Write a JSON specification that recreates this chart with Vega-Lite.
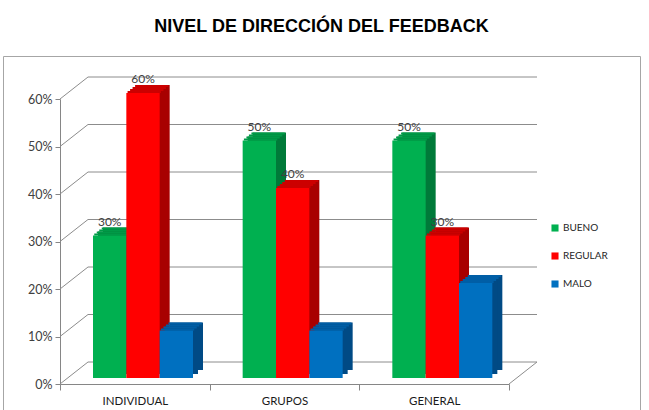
{
  "$schema": "https://vega.github.io/schema/vega-lite/v6.json",
  "width": 637,
  "height": 356,
  "autosize": {"type": "none"},
  "padding": {"left": 3, "top": 56, "right": 9, "bottom": 0},
  "background": "white",
  "title": {"text": "NIVEL DE DIRECCIÓN DEL FEEDBACK", "font": "Liberation Sans", "fontSize": 18, "fontWeight": "bold", "color": "#000000", "anchor": "middle", "frame": "group", "offset": 20},
  "config": {
    "view": {"stroke": "#a6a6a6", "strokeWidth": 1},
    "axisY": {"domainColor": "#868686", "tickColor": "#868686", "tickSize": 5, "labelFont": "Lato", "labelFontSize": 12.5, "labelColor": "#404040", "labelPadding": 3, "grid": false, "title": null},
    "axisX": {"offset": -28, "domainColor": "#868686", "tickColor": "#868686", "tickSize": 6, "tickBand": "extent", "labelFont": "Lato", "labelFontSize": 11.5, "labelColor": "#1a1a1a", "labelPadding": 5, "grid": false, "title": null, "labelAngle": 0}
  },
  "datasets": {
    "main": [
      {"cat": "INDIVIDUAL", "serie": "BUENO", "value": 0.3},
      {"cat": "INDIVIDUAL", "serie": "REGULAR", "value": 0.6},
      {"cat": "INDIVIDUAL", "serie": "MALO", "value": 0.1},
      {"cat": "GRUPOS", "serie": "BUENO", "value": 0.5},
      {"cat": "GRUPOS", "serie": "REGULAR", "value": 0.4},
      {"cat": "GRUPOS", "serie": "MALO", "value": 0.1},
      {"cat": "GENERAL", "serie": "BUENO", "value": 0.5},
      {"cat": "GENERAL", "serie": "REGULAR", "value": 0.3},
      {"cat": "GENERAL", "serie": "MALO", "value": 0.2}
    ],
    "grid": [{"v": 0}, {"v": 0.1}, {"v": 0.2}, {"v": 0.3}, {"v": 0.4}, {"v": 0.5}, {"v": 0.6}]
  },
  "layer": [
    {
      "data": {"name": "grid"},
      "mark": {"type": "rule", "color": "#8c8c8c", "strokeWidth": 1, "xOffset": 28, "x2Offset": 28, "yOffset": -22, "y2Offset": -22},
      "encoding": {
        "x": {"datum": 0, "type": "quantitative", "scale": {"domain": [0, 1], "range": [57, 506]}, "axis": null},
        "x2": {"datum": 1},
        "y": {"field": "v", "type": "quantitative", "scale": {"domain": [0, 0.6], "range": [328, 43]}, "axis": {"orient": "left", "offset": -57, "values": [0, 0.1, 0.2, 0.3, 0.4, 0.5, 0.6], "format": ".0%"}}
      }
    },
    {
      "data": {"name": "grid"},
      "mark": {"type": "rule", "color": "#8c8c8c", "strokeWidth": 1, "x2Offset": 28, "y2Offset": -22},
      "encoding": {
        "x": {"datum": 0, "type": "quantitative", "scale": {"domain": [0, 1], "range": [57, 506]}, "axis": null},
        "x2": {"datum": 0},
        "y": {"field": "v", "type": "quantitative", "scale": {"domain": [0, 0.6], "range": [328, 43]}, "axis": {"orient": "left", "offset": -57, "values": [0, 0.1, 0.2, 0.3, 0.4, 0.5, 0.6], "format": ".0%"}},
        "y2": {"field": "v"}
      }
    },
    {
      "data": {"values": [{"v": 0}]},
      "mark": {"type": "rule", "color": "#8c8c8c", "strokeWidth": 1, "x2Offset": 28, "y2Offset": -22},
      "encoding": {
        "x": {"datum": 1, "type": "quantitative", "scale": {"domain": [0, 1], "range": [57, 506]}, "axis": null},
        "x2": {"datum": 1},
        "y": {"field": "v", "type": "quantitative", "scale": {"domain": [0, 0.6], "range": [328, 43]}, "axis": {"orient": "left", "offset": -57, "values": [0, 0.1, 0.2, 0.3, 0.4, 0.5, 0.6], "format": ".0%"}},
        "y2": {"field": "v"}
      }
    },
    {
      "data": {"name": "main"},
      "mark": {"type": "bar", "yOffset": -14, "y2Offset": -13},
      "encoding": {
        "x": {"field": "cat", "type": "nominal", "sort": null, "scale": {"domain": ["INDIVIDUAL", "GRUPOS", "GENERAL"], "range": [57, 506], "paddingInner": 0, "paddingOuter": 0}, "axis": null},
        "xOffset": {"field": "serie", "type": "nominal", "sort": null, "scale": {"domain": ["BUENO", "REGULAR", "MALO"], "range": [43, 143], "paddingInner": 0, "paddingOuter": 0}},
        "y": {"field": "value", "type": "quantitative", "scale": {"domain": [0, 0.6], "range": [328, 43]}, "axis": {"orient": "left", "offset": -57, "values": [0, 0.1, 0.2, 0.3, 0.4, 0.5, 0.6], "format": ".0%"}},
        "color": {"field": "serie", "type": "nominal", "scale": {"domain": ["BUENO", "REGULAR", "MALO"], "range": ["#007A39", "#A80000", "#004A85"]}, "legend": null}
      }
    },
    {
      "data": {"name": "main"},
      "mark": {"type": "bar", "yOffset": -10, "y2Offset": -9},
      "encoding": {
        "x": {"field": "cat", "type": "nominal", "sort": null, "scale": {"domain": ["INDIVIDUAL", "GRUPOS", "GENERAL"], "range": [57, 506], "paddingInner": 0, "paddingOuter": 0}, "axis": null},
        "xOffset": {"field": "serie", "type": "nominal", "sort": null, "scale": {"domain": ["BUENO", "REGULAR", "MALO"], "range": [38, 138], "paddingInner": 0, "paddingOuter": 0}},
        "y": {"field": "value", "type": "quantitative", "scale": {"domain": [0, 0.6], "range": [328, 43]}, "axis": {"orient": "left", "offset": -57, "values": [0, 0.1, 0.2, 0.3, 0.4, 0.5, 0.6], "format": ".0%"}},
        "color": {"field": "serie", "type": "nominal", "scale": {"domain": ["BUENO", "REGULAR", "MALO"], "range": ["#007A39", "#A80000", "#004A85"]}, "legend": null}
      }
    },
    {
      "data": {"name": "main"},
      "mark": {"type": "bar", "yOffset": -8, "y2Offset": -6},
      "encoding": {
        "x": {"field": "cat", "type": "nominal", "sort": null, "scale": {"domain": ["INDIVIDUAL", "GRUPOS", "GENERAL"], "range": [57, 506], "paddingInner": 0, "paddingOuter": 0}, "axis": null},
        "xOffset": {"field": "serie", "type": "nominal", "sort": null, "scale": {"domain": ["BUENO", "REGULAR", "MALO"], "range": [34.25, 134.25], "paddingInner": 0, "paddingOuter": 0}},
        "y": {"field": "value", "type": "quantitative", "scale": {"domain": [0, 0.6], "range": [328, 43]}, "axis": {"orient": "left", "offset": -57, "values": [0, 0.1, 0.2, 0.3, 0.4, 0.5, 0.6], "format": ".0%"}},
        "y2": {"field": "value"},
        "color": {"field": "serie", "type": "nominal", "scale": {"domain": ["BUENO", "REGULAR", "MALO"], "range": ["#009A47", "#CC0000", "#005EA6"]}, "legend": null}
      }
    },
    {
      "data": {"name": "main"},
      "mark": {"type": "bar", "yOffset": -10, "y2Offset": -8},
      "encoding": {
        "x": {"field": "cat", "type": "nominal", "sort": null, "scale": {"domain": ["INDIVIDUAL", "GRUPOS", "GENERAL"], "range": [57, 506], "paddingInner": 0, "paddingOuter": 0}, "axis": null},
        "xOffset": {"field": "serie", "type": "nominal", "sort": null, "scale": {"domain": ["BUENO", "REGULAR", "MALO"], "range": [36.75, 136.75], "paddingInner": 0, "paddingOuter": 0}},
        "y": {"field": "value", "type": "quantitative", "scale": {"domain": [0, 0.6], "range": [328, 43]}, "axis": {"orient": "left", "offset": -57, "values": [0, 0.1, 0.2, 0.3, 0.4, 0.5, 0.6], "format": ".0%"}},
        "y2": {"field": "value"},
        "color": {"field": "serie", "type": "nominal", "scale": {"domain": ["BUENO", "REGULAR", "MALO"], "range": ["#009A47", "#CC0000", "#005EA6"]}, "legend": null}
      }
    },
    {
      "data": {"name": "main"},
      "mark": {"type": "bar", "yOffset": -12, "y2Offset": -10},
      "encoding": {
        "x": {"field": "cat", "type": "nominal", "sort": null, "scale": {"domain": ["INDIVIDUAL", "GRUPOS", "GENERAL"], "range": [57, 506], "paddingInner": 0, "paddingOuter": 0}, "axis": null},
        "xOffset": {"field": "serie", "type": "nominal", "sort": null, "scale": {"domain": ["BUENO", "REGULAR", "MALO"], "range": [39.25, 139.25], "paddingInner": 0, "paddingOuter": 0}},
        "y": {"field": "value", "type": "quantitative", "scale": {"domain": [0, 0.6], "range": [328, 43]}, "axis": {"orient": "left", "offset": -57, "values": [0, 0.1, 0.2, 0.3, 0.4, 0.5, 0.6], "format": ".0%"}},
        "y2": {"field": "value"},
        "color": {"field": "serie", "type": "nominal", "scale": {"domain": ["BUENO", "REGULAR", "MALO"], "range": ["#009A47", "#CC0000", "#005EA6"]}, "legend": null}
      }
    },
    {
      "data": {"name": "main"},
      "mark": {"type": "bar", "yOffset": -14, "y2Offset": -12},
      "encoding": {
        "x": {"field": "cat", "type": "nominal", "sort": null, "scale": {"domain": ["INDIVIDUAL", "GRUPOS", "GENERAL"], "range": [57, 506], "paddingInner": 0, "paddingOuter": 0}, "axis": null},
        "xOffset": {"field": "serie", "type": "nominal", "sort": null, "scale": {"domain": ["BUENO", "REGULAR", "MALO"], "range": [41.75, 141.75], "paddingInner": 0, "paddingOuter": 0}},
        "y": {"field": "value", "type": "quantitative", "scale": {"domain": [0, 0.6], "range": [328, 43]}, "axis": {"orient": "left", "offset": -57, "values": [0, 0.1, 0.2, 0.3, 0.4, 0.5, 0.6], "format": ".0%"}},
        "y2": {"field": "value"},
        "color": {"field": "serie", "type": "nominal", "scale": {"domain": ["BUENO", "REGULAR", "MALO"], "range": ["#009A47", "#CC0000", "#005EA6"]}, "legend": null}
      }
    },
    {
      "data": {"name": "main"},
      "mark": {"type": "bar", "yOffset": -6, "y2Offset": -5},
      "encoding": {
        "x": {"field": "cat", "type": "nominal", "sort": null, "scale": {"domain": ["INDIVIDUAL", "GRUPOS", "GENERAL"], "range": [57, 506], "paddingInner": 0, "paddingOuter": 0}, "axis": {}},
        "xOffset": {"field": "serie", "type": "nominal", "sort": null, "scale": {"domain": ["BUENO", "REGULAR", "MALO"], "range": [33, 133], "paddingInner": 0, "paddingOuter": 0}},
        "y": {"field": "value", "type": "quantitative", "scale": {"domain": [0, 0.6], "range": [328, 43]}, "axis": {"orient": "left", "offset": -57, "values": [0, 0.1, 0.2, 0.3, 0.4, 0.5, 0.6], "format": ".0%"}},
        "color": {"field": "serie", "type": "nominal", "scale": {"domain": ["BUENO", "REGULAR", "MALO"], "range": ["#00B050", "#FF0000", "#0070C0"]},
          "legend": {"title": null, "orient": "none", "legendX": 547, "legendY": 167, "padding": 0, "rowPadding": 18, "symbolType": "square", "symbolSize": 50, "symbolStrokeWidth": 0, "labelFont": "Lato", "labelFontSize": 10, "labelColor": "#262626", "labelOffset": 3}}
      }
    },
    {
      "data": {"name": "main"},
      "transform": [{"filter": "datum.serie != 'MALO'"}],
      "mark": {"type": "text", "font": "Lato", "fontSize": 12, "color": "#404040", "baseline": "alphabetic", "align": "center", "dy": -16},
      "encoding": {
        "x": {"field": "cat", "type": "nominal", "sort": null, "scale": {"domain": ["INDIVIDUAL", "GRUPOS", "GENERAL"], "range": [57, 506], "paddingInner": 0, "paddingOuter": 0}, "axis": null},
        "xOffset": {"field": "serie", "type": "nominal", "sort": null, "scale": {"type": "point", "domain": ["BUENO", "REGULAR", "MALO"], "range": [49.7, 116.3], "padding": 0}},
        "y": {"field": "value", "type": "quantitative", "scale": {"domain": [0, 0.6], "range": [328, 43]}, "axis": {"orient": "left", "offset": -57, "values": [0, 0.1, 0.2, 0.3, 0.4, 0.5, 0.6], "format": ".0%"}},
        "text": {"field": "value", "type": "quantitative", "format": ".0%"}
      }
    }
  ],
  "resolve": {"scale": {"x": "independent", "xOffset": "independent", "color": "independent"}}
}
